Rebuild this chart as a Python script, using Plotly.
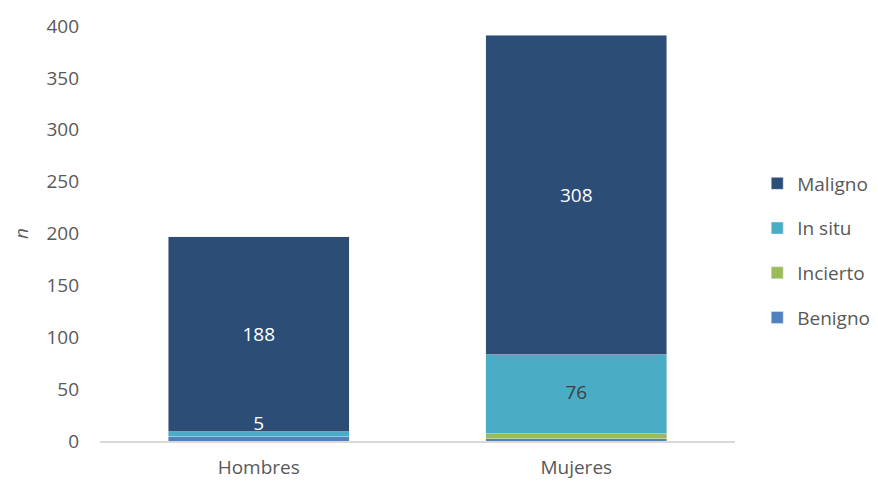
import plotly.graph_objects as go

categories = ["Hombres", "Mujeres"]
benigno = [4, 2]
incierto = [0, 5]
in_situ = [5, 76]
maligno = [188, 308]

in_situ_labels = ["5", "76"]
maligno_labels = ["188", "308"]

font_family = "Open Sans"
gray = "#595959"
fs = 19

fig = go.Figure()
fig.add_trace(go.Bar(x=categories, y=benigno, name="Benigno", marker_color="#4F81BD",
                     legendgroup="b", legendrank=4, hoverinfo="skip"))
fig.add_trace(go.Bar(x=categories, y=incierto, name="Incierto", marker_color="#9BBB59",
                     legendgroup="i", legendrank=3, hoverinfo="skip"))
fig.add_trace(go.Bar(x=categories, y=in_situ, name="In situ", marker_color="#4BACC6",
                     legendgroup="s", legendrank=2, hoverinfo="skip"))
fig.add_trace(go.Bar(x=categories, y=maligno, name="Maligno", marker_color="#2C4D75",
                     legendgroup="m", legendrank=1, text=maligno_labels,
                     textposition="inside", insidetextanchor="middle", constraintext="none",
                     textfont=dict(color="#FFFFFF", size=fs, family=font_family),
                     hoverinfo="skip"))

# In situ labels placed at the middle of each In situ segment
in_situ_mid = [b + i + s / 2 for b, i, s in zip(benigno, incierto, in_situ)]
fig.add_trace(go.Scatter(x=categories, y=in_situ_mid, mode="text", text=in_situ_labels,
                         textposition=["top center", "middle center"],
                         textfont=dict(color=["#FFFFFF", "#404040"], size=fs, family=font_family),
                         showlegend=False, hoverinfo="skip", cliponaxis=False))

fig.update_layout(
    barmode="stack",
    bargap=0.43,
    width=878, height=482,
    margin=dict(l=92, r=151, t=18, b=49, autoexpand=False),
    plot_bgcolor="white", paper_bgcolor="white",
    font=dict(family=font_family, size=fs, color=gray),
    showlegend=True,
    legend=dict(x=1.035, y=0.459, xanchor="left", yanchor="middle",
                tracegroupgap=17, font=dict(size=fs, color=gray),
                itemwidth=30),
    xaxis=dict(showline=True, linecolor="#D9D9D9", linewidth=1.5,
               tickfont=dict(size=fs, color=gray), ticks="", ticklabelstandoff=8),
    yaxis=dict(range=[0, 400], dtick=50, showgrid=False, zeroline=False,
               showline=False, tickfont=dict(size=fs, color=gray),
               ticklabelstandoff=20,
               title=dict(text="<i>n</i>", standoff=16, font=dict(size=fs, color=gray))),
)

fig.write_html("out.html")
